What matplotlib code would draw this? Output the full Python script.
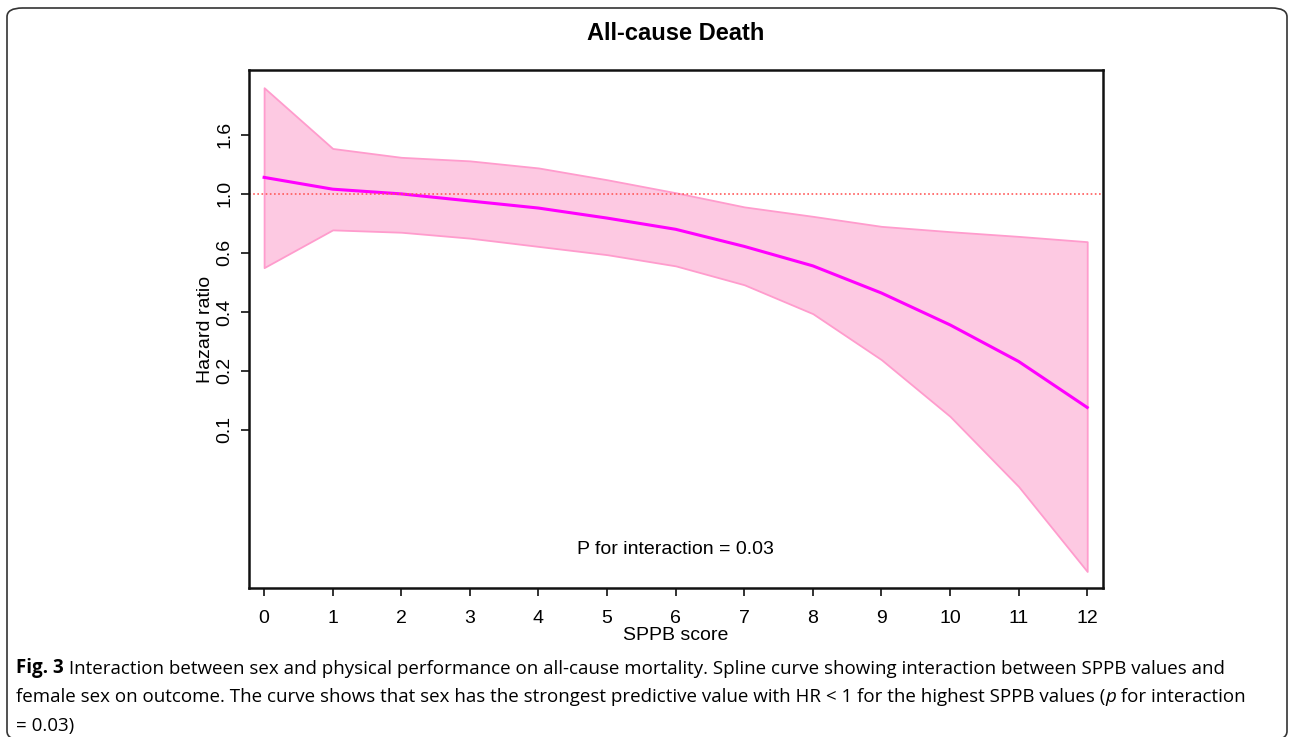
import matplotlib.pyplot as plt
from matplotlib import font_manager
from matplotlib.patches import FancyBboxPatch

# SPPB score (x) and curve, in positions on the
# hazard-ratio axis (tick 0 = 0.1, 1 = 0.2, 2 = 0.4, 3 = 0.6, 4 = 1.0, 5 = 1.6)
sppb = [0, 1, 2, 3, 4, 5, 6, 7, 8, 9, 10, 11, 12]
hr_mid = [4.28, 4.08, 4.00, 3.88, 3.76, 3.59, 3.40, 3.11, 2.78, 2.32, 1.78, 1.16, 0.38]
hr_upper = [5.80, 4.77, 4.62, 4.56, 4.44, 4.24, 4.02, 3.78, 3.62, 3.45, 3.36, 3.28, 3.19]
hr_lower = [2.75, 3.39, 3.35, 3.25, 3.11, 2.97, 2.78, 2.46, 1.97, 1.19, 0.23, -0.96, -2.40]
ref_line = 4  # HR = 1.0

y_ticks = [0, 1, 2, 3, 4, 5]
y_labels = ['0.1', '0.2', '0.4', '0.6', '1.0', '1.6']

plt.rcParams['font.family'] = ['Liberation Sans', 'DejaVu Sans']

names = {f.name for f in font_manager.fontManager.ttflist}
if 'Liberation Sans Narrow' in names:
    cap_font, cap_size = 'Liberation Sans Narrow', 15
else:
    cap_font, cap_size = 'Open Sans', 13.5

fig = plt.figure(figsize=(12.92, 7.37), dpi=100)

# rounded frame around the whole figure (bottom edge runs off the page)
frame = FancyBboxPatch((7 / 1292, -3 / 737), 1280 / 1292, 732 / 737,
                       boxstyle='round,pad=0,rounding_size=0.012',
                       transform=fig.transFigure, fill=False,
                       edgecolor='#333333', linewidth=1.2)
fig.patches.append(frame)

ax = fig.add_axes([249 / 1292, 149 / 737, 854 / 1292, 518 / 737])

ax.fill_between(sppb, hr_lower, hr_upper, facecolor='#fdc9e2',
                edgecolor='#ff9ccd', linewidth=1.3)
ax.plot(sppb, hr_mid, color='#ff00ff', linewidth=2.2)
ax.axhline(ref_line, color='#ff5a5a', linestyle=(0, (1, 1.5)), linewidth=1.2)

ax.set_xlim(-0.22, 12.23)
ax.set_ylim(-2.68, 6.10)
ax.set_xticks(sppb)
ax.set_yticks(y_ticks)
ax.set_yticklabels(y_labels, rotation=90, va='center')
ax.tick_params(axis='both', labelsize=14, length=6, width=1.3, color='#222222')
ax.tick_params(axis='x', pad=9.5)
ax.tick_params(axis='y', pad=5)
for s in ax.spines.values():
    s.set_linewidth(1.8)
    s.set_color('#111111')

ax.set_xlabel('SPPB score', fontsize=14, labelpad=0)
ax.set_ylabel('Hazard ratio', fontsize=14, labelpad=2)
ax.text(6, -2.03, 'P for interaction = 0.03', fontsize=14, ha='center', va='center')

fig.text(676 / 1292, 1 - 33 / 737, 'All-cause Death', fontsize=17,
         fontweight='bold', ha='center', va='center')

# caption
line_y = [1 - 678 / 737, 1 - 706 / 737, 1 - 735 / 737]
t = fig.text(16 / 1292, line_y[0], 'Fig. 3', family=cap_font, fontsize=cap_size,
             fontweight='bold', va='bottom')
fig.canvas.draw()
ax.annotate(' Interaction between sex and physical performance on all-cause mortality. '
            'Spline curve showing interaction between SPPB values and',
            xy=(1, 0), xycoords=t, va='bottom', family=cap_font, fontsize=cap_size,
            annotation_clip=False)
t2 = fig.text(16 / 1292, line_y[1], 'female sex on outcome. The curve shows that sex has '
              'the strongest predictive value with HR < 1 for the highest SPPB values (',
              family=cap_font, fontsize=cap_size, va='bottom')
t3 = ax.annotate('p', xy=(1, 0), xycoords=t2, va='bottom', family=cap_font,
                 fontsize=cap_size, style='italic', annotation_clip=False)
ax.annotate(' for interaction', xy=(1, 0), xycoords=t3, va='bottom', family=cap_font,
            fontsize=cap_size, annotation_clip=False)
fig.text(16 / 1292, line_y[2], '= 0.03)', family=cap_font, fontsize=cap_size, va='bottom')

fig.savefig('out.png', dpi=100)
